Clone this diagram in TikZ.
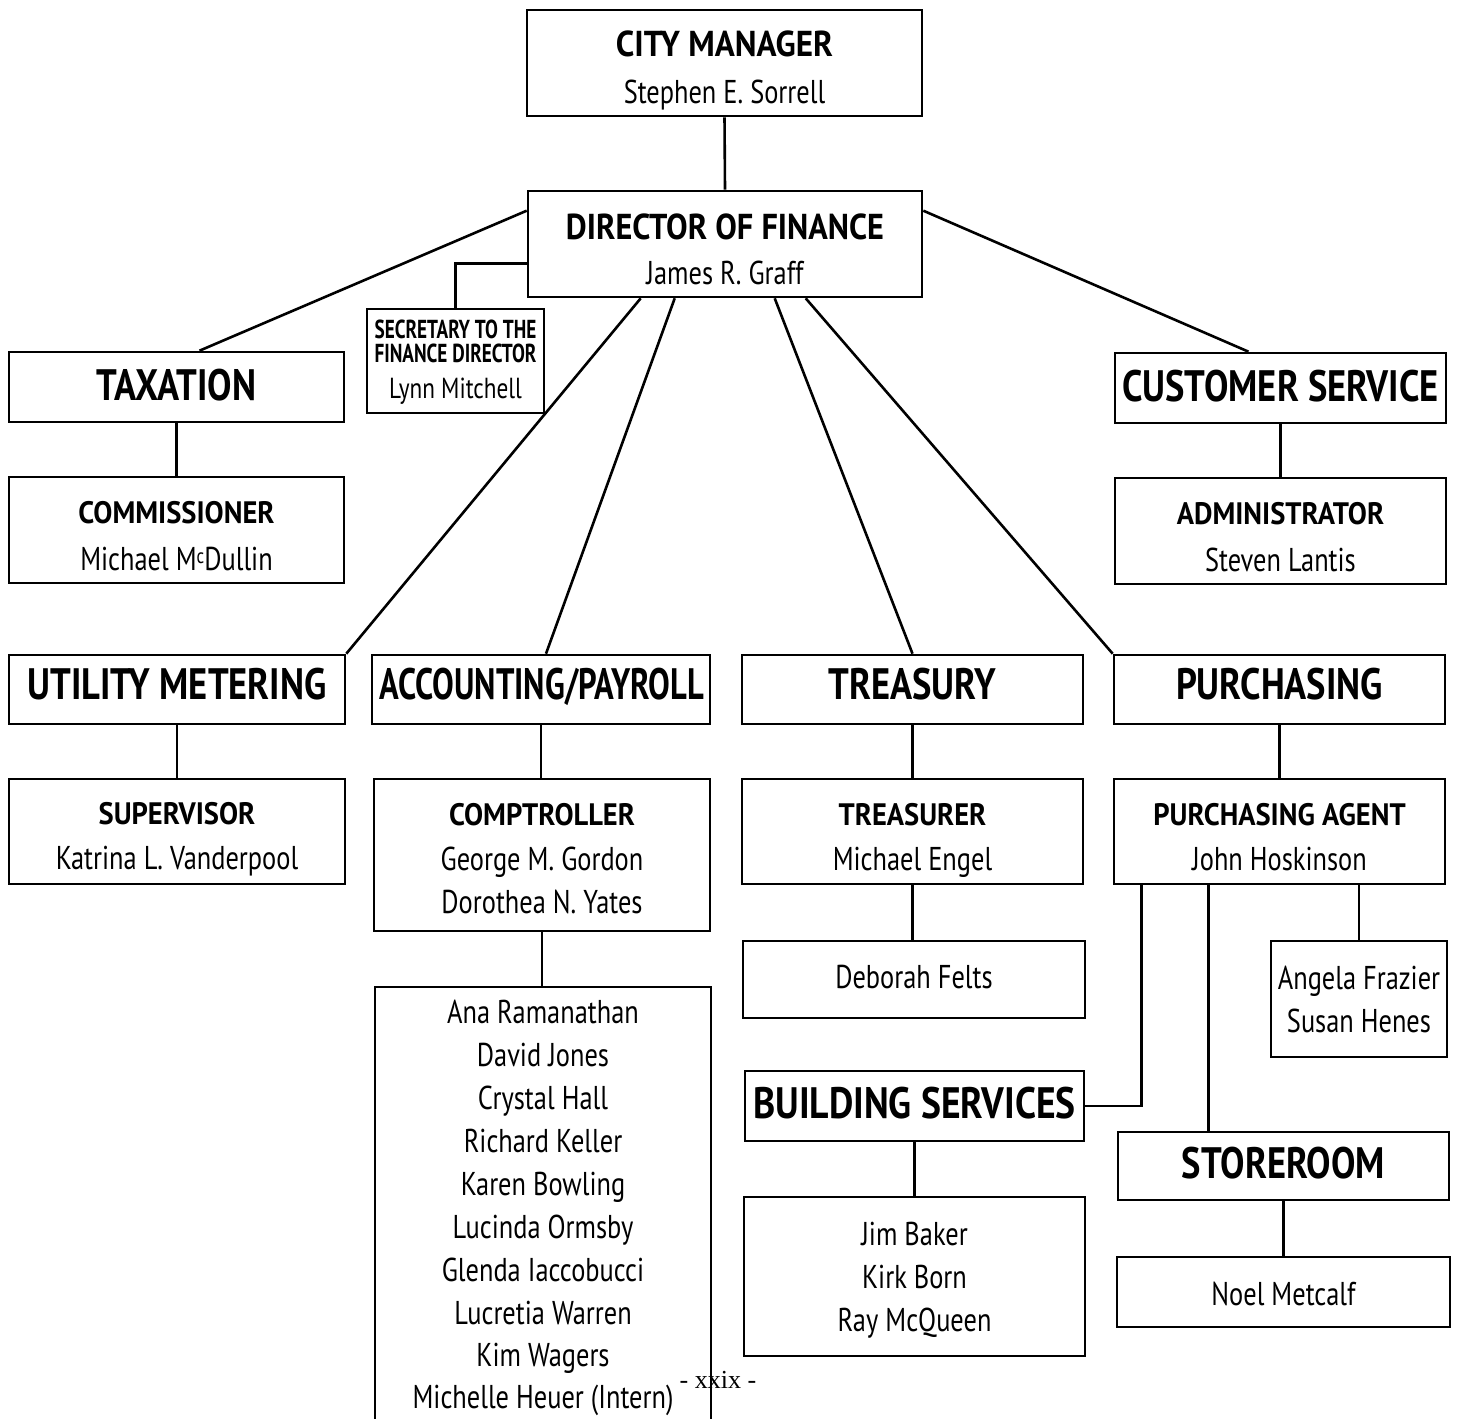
\documentclass[tikz,border=0pt]{standalone}
\usepackage{fontspec}
\usetikzlibrary{calc}
\newfontfamily\nmfont{PT Sans}[FakeStretch=0.80]
\newfontfamily\bdbig{PT Sans}[FakeStretch=0.83]
\newfontfamily\bdmid{PT Sans}[FakeStretch=0.92]
\newfontfamily\bdsec{PT Sans}[FakeStretch=0.74]
\newfontfamily\pgfont{Liberation Serif}
\begin{document}
\begin{tikzpicture}[x=1pt,y=-1pt,
  box/.style={draw, line width=2.6pt, inner sep=0pt},
  conn/.style={line width=2.6pt},
  txt/.style={anchor=base, inner sep=0pt},
  hbig/.style={txt, font=\bdbig\bfseries\fontsize{44}{44}\selectfont},
  htop/.style={txt, font=\bdmid\bfseries\fontsize{36}{36}\selectfont},
  hsub/.style={txt, font=\bdmid\bfseries\fontsize{31}{31}\selectfont},
  hsec/.style={txt, font=\bdsec\bfseries\fontsize{26}{26}\selectfont},
  nm/.style={txt, font=\nmfont\fontsize{33}{33}\selectfont},
  nmsec/.style={txt, font=\nmfont\fontsize{29}{29}\selectfont}]
\clip (0,0) rectangle (1458,1418);
\fill[white] (0,0) rectangle (1458,1418);
% ---- boxes
\node[box, minimum width=395, minimum height=106] (cm) at (724.5,63) {};
\node[box, minimum width=394, minimum height=106] (dof) at (725,244) {};
\node[box, minimum width=177, minimum height=104] (sec) at (455.5,361) {};
\node[box, minimum width=335, minimum height=70] (tax) at (176.5,387) {};
\node[box, minimum width=335, minimum height=106] (com) at (176.5,530) {};
\node[box, minimum width=331, minimum height=70] (cs) at (1280.5,388) {};
\node[box, minimum width=331, minimum height=106] (adm) at (1280.5,531) {};
\node[box, minimum width=336, minimum height=69] (um) at (177,689.5) {};
\node[box, minimum width=336, minimum height=105] (sup) at (177,831.5) {};
\node[box, minimum width=338, minimum height=69] (acc) at (541,689.5) {};
\node[box, minimum width=336, minimum height=152] (comp) at (542,855) {};
\node[box, minimum width=336, minimum height=473] (list) at (543,1223.5) {};
\node[box, minimum width=341, minimum height=69] (tre) at (912.5,689.5) {};
\node[box, minimum width=341, minimum height=105] (trer) at (912.5,831.5) {};
\node[box, minimum width=342, minimum height=77] (deb) at (914,979.5) {};
\node[box, minimum width=339, minimum height=70] (bs) at (914.5,1106) {};
\node[box, minimum width=341, minimum height=159] (jim) at (914.5,1276.5) {};
\node[box, minimum width=331, minimum height=69] (pur) at (1279.5,689.5) {};
\node[box, minimum width=331, minimum height=105] (pa) at (1279.5,831.5) {};
\node[box, minimum width=176, minimum height=116] (ang) at (1359,999) {};
\node[box, minimum width=331, minimum height=68] (sto) at (1283.5,1166) {};
\node[box, minimum width=333, minimum height=70] (noel) at (1283.5,1292) {};
% ---- texts
\node[htop] (cm1) at (724.5,57) {CITY MANAGER};
\node[nm] (cm2) at (724.5,103) {Stephen E. Sorrell};
\node[htop] (dof1) at (725,239) {\scalebox{0.975}[1]{DIRECTOR OF FINANCE}};
\node[nm] (dof2) at (725,284) {James R. Graff};
\node[hsec] (sec1) at (455.5,338) {SECRETARY TO THE};
\node[hsec] (sec2) at (455.5,362) {FINANCE DIRECTOR};
\node[nmsec] (sec3) at (455.5,398) {Lynn Mitchell};
\node[hbig] (tax1) at (176.5,400) {TAXATION};
\node[hsub] (com1) at (176.5,523) {COMMISSIONER};
\node[nm] (com2) at (176.5,570) {Michael M\raisebox{7pt}{\fontsize{21}{21}\selectfont c}Dullin};
\node[hbig] (cs1) at (1280.5,401) {CUSTOMER SERVICE};
\node[hsub] (adm1) at (1280.5,524) {ADMINISTRATOR};
\node[nm] (adm2) at (1280.5,571) {Steven Lantis};
\node[hbig] (um1) at (177,699) {UTILITY METERING};
\node[hsub] (sup1) at (177,824) {SUPERVISOR};
\node[nm] (sup2) at (177,869) {Katrina L. Vanderpool};
\node[hbig] (acc1) at (542,699) {\scalebox{0.89}[1]{ACCOUNTING/PAYROLL}};
\node[hsub] (comp1) at (542,825) {COMPTROLLER};
\node[nm] (comp2) at (542,870) {George M. Gordon};
\node[nm] (comp3) at (542,913) {Dorothea N. Yates};
\node[nm] (l1) at (543,1023) {Ana Ramanathan};
\node[nm] (l2) at (543,1066) {David Jones};
\node[nm] (l3) at (543,1109) {Crystal Hall};
\node[nm] (l4) at (543,1152) {Richard Keller};
\node[nm] (l5) at (543,1195) {Karen Bowling};
\node[nm] (l6) at (543,1238) {Lucinda Ormsby};
\node[nm] (l7) at (543,1281) {Glenda Iaccobucci};
\node[nm] (l8) at (543,1324) {Lucretia Warren};
\node[nm] (l9) at (543,1366) {Kim Wagers};
\node[nm] (l10) at (543,1408) {Michelle Heuer (Intern)};
\node[hbig] (tre1) at (912.5,699) {TREASURY};
\node[hsub] (trer1) at (912.5,825) {TREASURER};
\node[nm] (trer2) at (912.5,870) {Michael Engel};
\node[nm] (deb1) at (914,988) {Deborah Felts};
\node[hbig] (bs1) at (914.5,1118) {\scalebox{1.03}[1]{BUILDING SERVICES}};
\node[nm] (jim1) at (914.5,1245) {Jim Baker};
\node[nm] (jim2) at (914.5,1288) {Kirk Born};
\node[nm] (jim3) at (914.5,1331) {Ray McQueen};
\node[hbig] (pur1) at (1279.5,699) {PURCHASING};
\node[hsub] (pa1t) at (1279.5,825) {PURCHASING AGENT};
\node[nm] (pa2t) at (1279.5,870) {John Hoskinson};
\node[nm] (ang1) at (1359,989) {Angela Frazier};
\node[nm] (ang2) at (1359,1032) {Susan Henes};
\node[hbig] (sto1) at (1283.5,1178) {STOREROOM};
\node[nm] (noel1) at (1283.5,1305) {Noel Metcalf};
\node[txt, font=\pgfont\fontsize{26}{26}\selectfont] (pg) at (718,1388) {- xxix -};
% ---- connectors
\draw[conn] (cm.south) -- (dof.north);
\draw[conn] ($(dof.north west)+(0,21)$) -- ($(tax.north)+(23,0)$);
\draw[conn] ($(dof.north east)+(0,21)$) -- ($(cs.north)+(-32,0)$);
\draw[conn] ($(dof.north west)+(0,74)$) -| (sec.north);
\draw[conn] ($(dof.south west)+(114,0)$) -- (um.north east);
\draw[conn] ($(dof.south west)+(148,0)$) -- ($(acc.north)+(5,0)$);
\draw[conn] ($(dof.south west)+(248,0)$) -- (tre.north);
\draw[conn] ($(dof.south west)+(279,0)$) -- (pur.north west);
\draw[conn] (tax.south) -- (com.north);
\draw[conn] (cs.south) -- (adm.north);
\draw[conn] (um.south) -- (sup.north);
\draw[conn] (acc.south) -- (acc.south |- comp.north);
\draw[conn] (comp.south) -- (comp.south |- list.north);
\draw[conn] (tre.south) -- (trer.north);
\draw[conn] (trer.south) -- (trer.south |- deb.north);
\draw[conn] (bs.south) -- (bs.south |- jim.north);
\draw[conn] (pur.south) -- (pa.north);
\coordinate (pa1) at ($(pa.south west)+(29,0)$);
\coordinate (pa2) at ($(pa.south west)+(96,0)$);
\draw[conn] (pa1) |- (bs.east);
\draw[conn] (pa2) -- (pa2 |- sto.north);
\draw[conn] (ang.north |- pa.south) -- (ang.north);
\draw[conn] (sto.south) -- (noel.north);
\end{tikzpicture}
\end{document}
